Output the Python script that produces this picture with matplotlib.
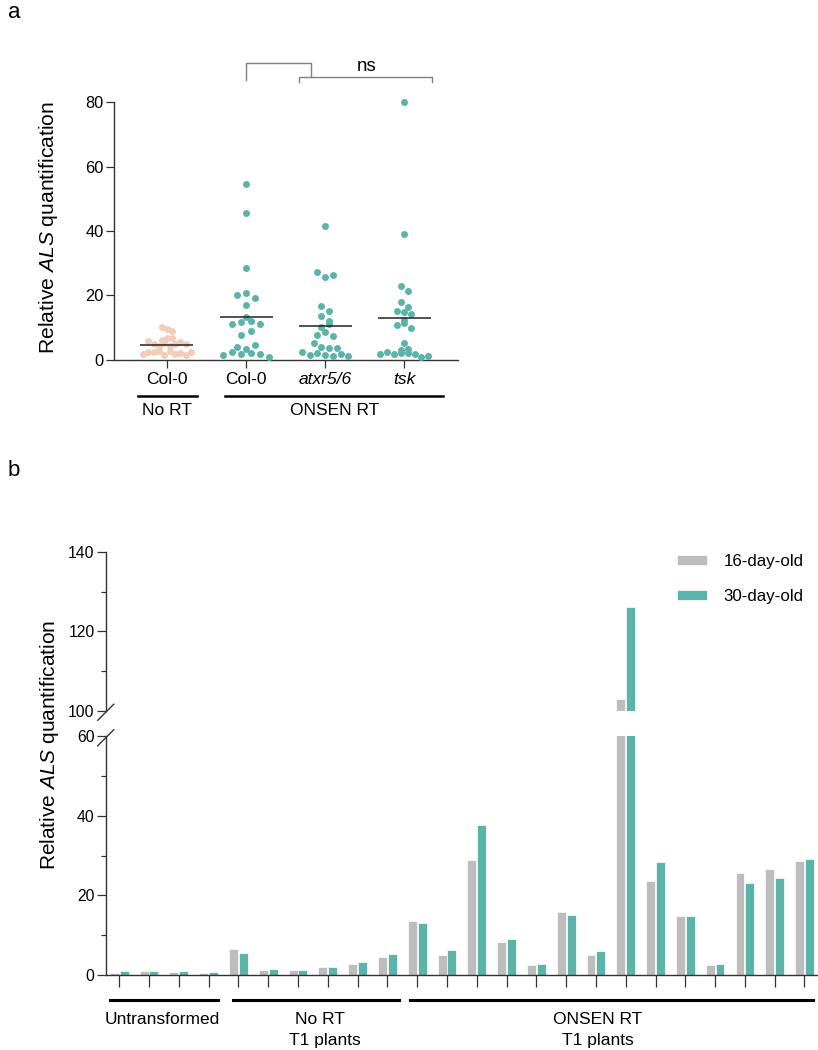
import numpy as np
import matplotlib
matplotlib.use("Agg")
import matplotlib.pyplot as plt
from matplotlib.lines import Line2D

plt.rcParams['font.family'] = ['Liberation Sans', 'DejaVu Sans']
plt.rcParams['mathtext.fontset'] = 'custom'
plt.rcParams['mathtext.rm'] = 'Liberation Sans'
plt.rcParams['mathtext.it'] = 'Liberation Sans:italic'

# ---- panel a : scatter des quantifications ----
cat_a = ["Col-0", "Col-0", "atxr5/6", "tsk"]
col0_nort = [10.2, 9.6, 9.0, 6.1, 6.8, 5.8, 6.6, 4.7, 4.2, 5.2, 4.2, 4.7, 5.5, 4.9,
             1.6, 2.4, 2.4, 2.5, 1.3, 2.5, 1.6, 1.9, 1.4, 2.2]
col0_onsen = [54.5, 45.6, 28.5, 20.1, 20.8, 19.1, 16.8, 13.3, 11.0, 11.8, 11.9, 11.0,
              7.7, 9.0, 4.0, 1.4, 2.4, 1.6, 2.0, 3.3, 4.4, 1.8, 0.7]
atxr_onsen = [41.6, 27.3, 25.7, 26.4, 16.7, 15.1, 13.4, 12.1, 10.0, 11.0, 7.7, 8.7,
              7.3, 5.2, 3.9, 2.3, 1.4, 2.1, 3.7, 3.7, 1.3, 1.2, 1.6, 1.2]
tsk_onsen = [80.0, 38.9, 23.0, 21.2, 18.0, 16.3, 15.1, 14.7, 14.2, 12.2, 10.8, 11.3,
             9.7, 5.1, 1.6, 2.3, 1.8, 2.0, 2.9, 1.9, 3.3, 1.6, 0.7, 1.2]
groups_a = [col0_nort, col0_onsen, atxr_onsen, tsk_onsen]

# ---- panel b : barres 16 / 30 jours ----
day16 = [0.6, 0.9, 0.8, 0.5,
         6.5, 1.3, 1.3, 1.9, 2.7, 4.4,
         13.6, 5.1, 29.0, 8.2, 2.6, 15.8, 4.9, 103.0, 23.6, 14.8, 2.5, 25.6, 26.6, 28.6]
day30 = [0.9, 0.9, 1.1, 0.8,
         5.5, 1.5, 1.3, 2.1, 3.3, 5.3,
         13.1, 6.3, 37.7, 9.0, 2.8, 15.1, 6.1, 126.2, 28.3, 14.7, 2.8, 23.0, 24.3, 29.2]

PINK = "#F1CDB9"
TEAL = "#5BB3AA"
GREY = "#BDBDBD"
AXC = "#333333"
FS = 12.5

W, H = 818, 1050
fig = plt.figure(figsize=(W / 100, H / 100), dpi=100)


def fx(px):
    return px / W


def fy(py):
    return 1 - py / H


def swarm(vals, step_px, row_px, ppx, ppy):
    """placement en rangees facon Prism"""
    vals = np.asarray(vals)
    order = np.argsort(vals, kind="stable")
    rows, cur, start = [], [order[0]], vals[order[0]]
    for i in order[1:]:
        if (vals[i] - start) * ppy < row_px:
            cur.append(i)
        else:
            rows.append(cur)
            cur, start = [i], vals[i]
    rows.append(cur)
    off = np.zeros(len(vals))
    for r in rows:
        r = sorted(r)
        n = len(r)
        for j, i in enumerate(r):
            off[i] = (j - (n - 1) / 2) * step_px / ppx
    return off


# ================= panel a =================
ax = fig.add_axes([fx(114), fy(359.5), fx(458) - fx(114), (359.5 - 102.3) / H])
ax.set_xlim(-0.67, 3.68)
ax.set_ylim(0, 80)
p0 = ax.transData.transform((0, 0))
p1 = ax.transData.transform((1, 1))
ppx, ppy = p1[0] - p0[0], p1[1] - p0[1]

steps = [5.3, 9.3, 7.7, 6.9]
for i, vals in enumerate(groups_a):
    off = swarm(vals, steps[i], 5.8, ppx, ppy)
    col = PINK if i == 0 else TEAL
    ax.scatter(i + off, vals, s=25, color=col, lw=0, clip_on=False, zorder=3)
    ax.hlines(np.mean(vals), i - 0.335, i + 0.335, color="#222222", lw=1.1, zorder=4)

for s in ["top", "right"]:
    ax.spines[s].set_visible(False)
for s in ["left", "bottom"]:
    ax.spines[s].set_color(AXC)
    ax.spines[s].set_linewidth(1.0)
ax.set_yticks([0, 20, 40, 60, 80])
ax.tick_params(axis="y", length=5.5, width=0.9, color=AXC, labelsize=11.8, pad=2)
ax.set_xticks(range(4))
ax.set_xticklabels(cat_a)
ax.tick_params(axis="x", length=5.8, width=0.9, color=AXC, labelsize=FS, pad=3.5)
for lab in ax.get_xticklabels()[2:]:
    lab.set_fontstyle("italic")

# lignes de groupes sous l'axe
ylo = (359.5 - 395.7) / 3.2125
ax.plot([-0.37, 0.38], [ylo, ylo], color="black", lw=1.8, clip_on=False)
ax.plot([0.73, 3.49], [ylo, ylo], color="black", lw=1.8, clip_on=False)
ytx = (359.5 - 410.5) / 3.2125
ax.text(0, ytx, "No RT", ha="center", va="center", fontsize=FS)
ax.text(2.12, ytx, "ONSEN RT", ha="center", va="center", fontsize=FS)

# crochets de comparaison
BC = "#808080"
ax.plot([1.0, 1.0, 1.82, 1.82], [87.0, 92.2, 92.2, 88.0], color=BC, lw=1, clip_on=False)
ax.plot([1.667, 1.667, 3.35, 3.35], [86.2, 88.0, 88.0, 86.2], color=BC, lw=1, clip_on=False)
ax.text(2.53, 91.0, "ns", ha="center", va="center", fontsize=13.5)

fig.text(fx(49), fy(227), r"Relative $\mathit{ALS}$ quantification", rotation=90,
         ha="center", va="center", fontsize=15.2)
fig.text(fx(8), fy(12), "a", ha="left", va="center", fontsize=16)

# ================= panel b =================
pos_l = fx(106)
wid = fx(817) - fx(106)
axl = fig.add_axes([pos_l, fy(975), wid, (975 - 736.2) / H])
axh = fig.add_axes([pos_l, fy(711), wid, (711 - 551.8) / H])
x = np.arange(len(day16))
for a in (axl, axh):
    a.bar(x - 0.165, day16, 0.3, color=GREY, edgecolor="white", lw=0.5, label="16-day-old")
    a.bar(x + 0.165, day30, 0.3, color=TEAL, edgecolor="white", lw=0.5, label="30-day-old")
    a.set_xlim(-0.445, 23.42)
    for s in ["top", "right"]:
        a.spines[s].set_visible(False)
    a.spines["left"].set_color(AXC)
    a.spines["left"].set_linewidth(1.0)
    a.tick_params(axis="y", which="major", length=6.7, width=0.9, color=AXC,
                  labelsize=11.3, pad=1.5)
    a.tick_params(axis="y", which="minor", length=3.8, width=0.9, color=AXC)

axl.set_ylim(0, 60)
axl.set_yticks([0, 20, 40, 60])
axl.set_yticks([10, 30, 50], minor=True)
axl.spines["bottom"].set_color(AXC)
axl.spines["bottom"].set_linewidth(1.0)
axl.set_xticks(x)
axl.set_xticklabels([])
axl.tick_params(axis="x", length=8.9, width=0.9, color=AXC)

axh.set_ylim(100, 140)
axh.set_yticks([100, 120, 140])
axh.set_yticks([110, 130], minor=True)
axh.spines["bottom"].set_visible(False)
axh.set_xticks([])
axh.legend(loc="upper left", bbox_to_anchor=(fx(677), fy(554)),
           bbox_transform=fig.transFigure, frameon=False, fontsize=12.2,
           handlelength=1.75, handleheight=0.55, handletextpad=1.0,
           labelspacing=1.2, borderpad=0, borderaxespad=0)

# marques de coupure de l'axe
for cy in (712.3, 737.8):
    fig.add_artist(Line2D([fx(97.7), fx(113.7)], [fy(cy + 8), fy(cy - 8)],
                          color=AXC, lw=1, transform=fig.transFigure))

# lignes de groupes sous le panel b
ylb = (975 - 1000) / 3.98
for x0, x1 in [(-0.31, 3.33), (3.81, 9.4), (9.77, 23.3)]:
    axl.plot([x0, x1], [ylb, ylb], color="black", lw=2.2, clip_on=False)
y1 = (975 - 1019.5) / 3.98
y2 = (975 - 1041) / 3.98
axl.text(1.43, y1, "Untransformed", ha="center", va="center", fontsize=FS)
axl.text(6.75, y1, "No RT", ha="center", va="center", fontsize=FS)
axl.text(6.9, y2, "T1 plants", ha="center", va="center", fontsize=FS)
axl.text(16.07, y1, "ONSEN RT", ha="center", va="center", fontsize=FS)
axl.text(16.07, y2, "T1 plants", ha="center", va="center", fontsize=FS)

fig.text(fx(50), fy(745), r"Relative $\mathit{ALS}$ quantification", rotation=90,
         ha="center", va="center", fontsize=15)
fig.text(fx(8), fy(470), "b", ha="left", va="center", fontsize=16)

fig.savefig("out.png", dpi=100, facecolor="white")
